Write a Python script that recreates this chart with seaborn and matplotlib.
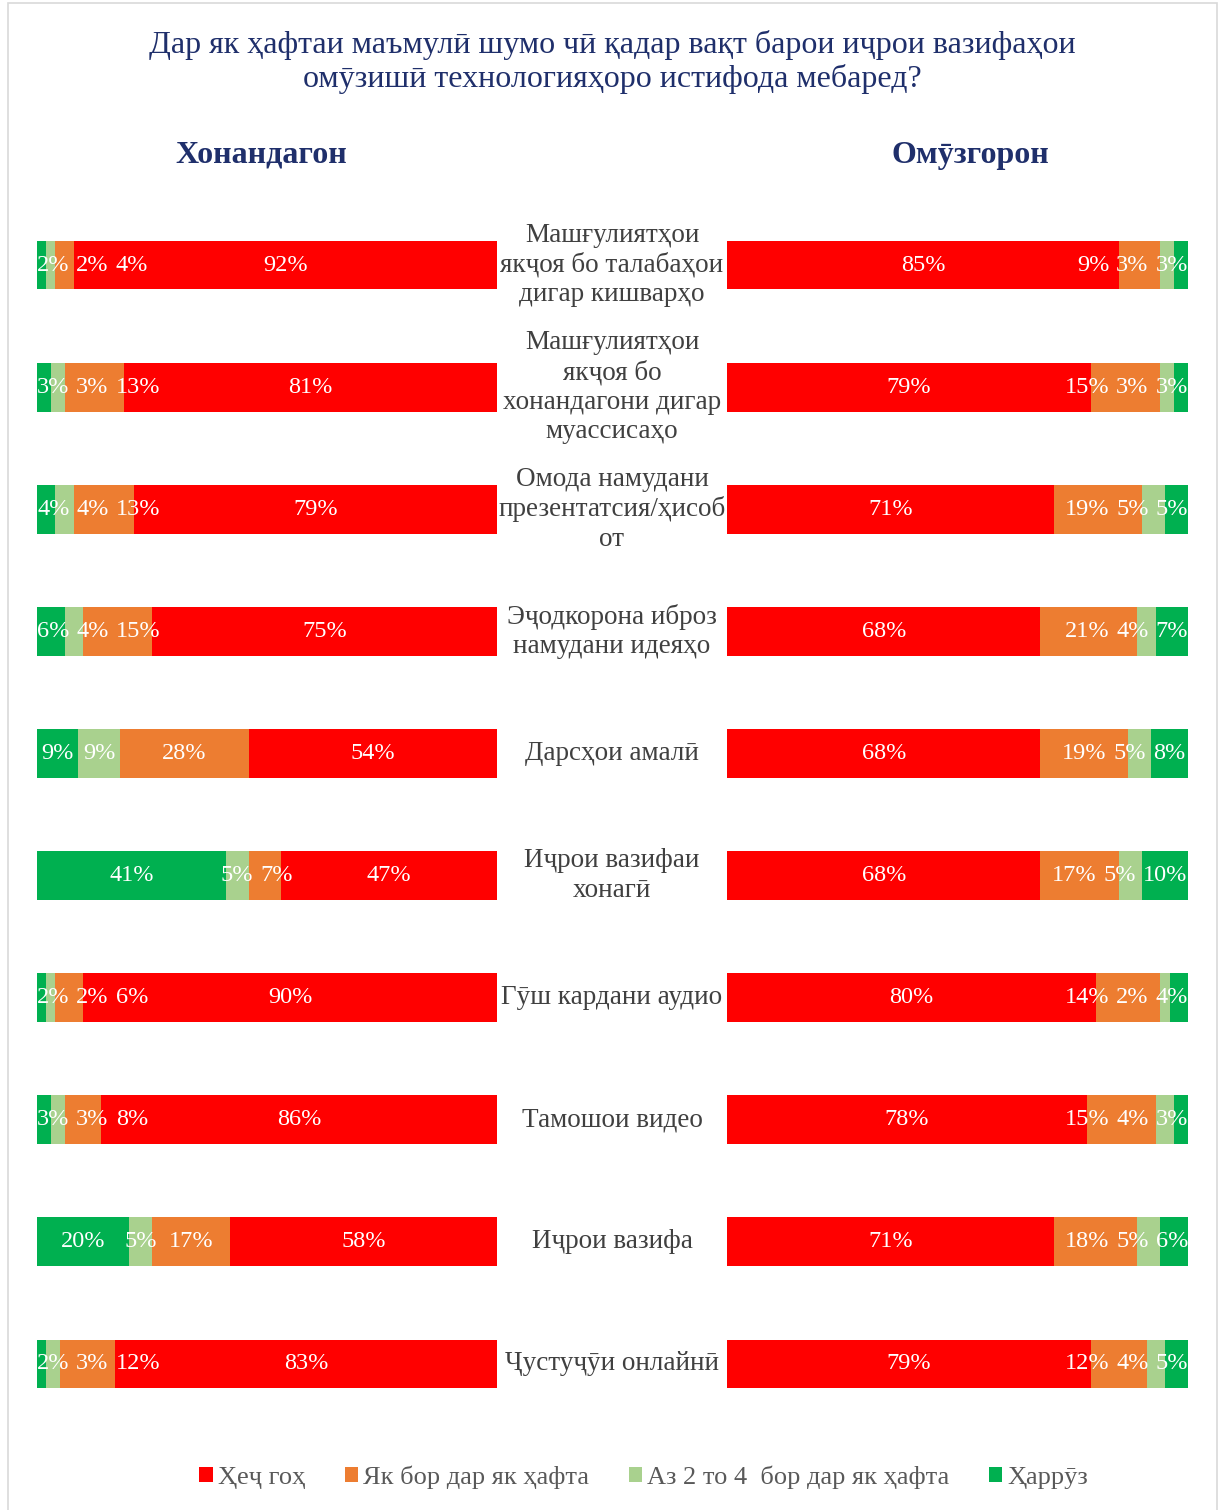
import numpy as np
import pandas as pd
import matplotlib
matplotlib.use("Agg")
import matplotlib.pyplot as plt
import matplotlib.transforms as mtransforms
from matplotlib.patches import Patch, Rectangle
import seaborn as sns

# DATA
title = "Дар як ҳафтаи маъмулӣ шумо чӣ қадар вақт барои иҷрои вазифаҳои\nомӯзишӣ технологияҳоро истифода мебаред?"
panel_titles = ["Хонандагон", "Омӯзгорон"]

categories = [
    "Машғулиятҳои\nякҷоя бо талабаҳои\nдигар кишварҳо",
    "Машғулиятҳои\nякҷоя бо\nхонандагони дигар\nмуассисаҳо",
    "Омода намудани\nпрезентатсия/ҳисоб\nот",
    "Эҷодкорона иброз\nнамудани идеяҳо",
    "Дарсҳои амалӣ",
    "Иҷрои вазифаи\nхонагӣ",
    "Гӯш кардани аудио",
    "Тамошои видео",
    "Иҷрои вазифа",
    "Ҷустуҷӯи онлайнӣ",
]

series = ["Ҳеҷ гоҳ", "Як бор дар як ҳафта", "Аз 2 то 4  бор дар як ҳафта", "Ҳаррӯз"]
colors = ["#FF0000", "#ED7D31", "#A9D18E", "#00B050"]

# students (Хонандагон)
stud_never = [92, 81, 79, 75, 54, 47, 90, 86, 58, 83]
stud_once = [4, 13, 13, 15, 28, 7, 6, 8, 17, 12]
stud_2to4 = [2, 3, 4, 4, 9, 5, 2, 3, 5, 3]
stud_daily = [2, 3, 4, 6, 9, 41, 2, 3, 20, 2]

# teachers (Омӯзгорон)
teach_never = [85, 79, 71, 68, 68, 68, 80, 78, 71, 79]
teach_once = [9, 15, 19, 21, 19, 17, 14, 15, 18, 12]
teach_2to4 = [3, 3, 5, 4, 5, 5, 2, 4, 5, 4]
teach_daily = [3, 3, 5, 7, 8, 10, 4, 3, 6, 5]

sns.set_style("white")
plt.rcParams["font.family"] = ["Liberation Serif", "DejaVu Serif"]

W, H = 1219, 1510
fig = plt.figure(figsize=(W / 100, H / 100), dpi=100)

ax_bottom = 1 - 1425 / H
ax_height = (1425 - 204) / H
ax_left = fig.add_axes([37 / W, ax_bottom, 460 / W, ax_height])
ax_right = fig.add_axes([727 / W, ax_bottom, 461 / W, ax_height])

value_fs = 17.5


def label_width(ax, text):
    # rough width of a Times-like label, in data units
    fs_px = value_fs * 100 / 72
    digits = len(text) - 1
    px = (0.5 * digits + 0.833) * fs_px
    px_per_unit = ax.get_position().width * W / 100
    return px / px_per_unit


def draw_panel(ax, segs, seg_colors, reverse_push):
    # segs: list of series in stacking order from x=0 outward
    arr = np.array(segs, dtype=float)
    cum = np.cumsum(arr, axis=0)
    # draw widest layer first so shorter cumulative bars sit on top
    for k in range(len(segs) - 1, -1, -1):
        df = pd.DataFrame({"cat": categories, "val": cum[k]})
        sns.barplot(data=df, x="val", y="cat", order=categories, orient="h",
                    color=seg_colors[k], width=0.4, linewidth=0,
                    saturation=1, ax=ax)
    ax.set_xlim(0, 100)
    ax.set_ylim(len(categories) - 0.5, -0.5)
    ax.axis("off")

    gap = 1.5
    for i in range(len(categories)):
        starts = np.concatenate([[0], cum[:-1, i]])
        centers = starts + arr[:, i] / 2
        texts = [f"{int(v)}%" for v in arr[:, i]]
        pos = list(centers)
        if not reverse_push:
            limit = 0.0
            for k in range(len(texts)):
                w = label_width(ax, texts[k])
                pos[k] = max(centers[k], limit + w / 2)
                limit = pos[k] + w / 2 + gap
        else:
            limit = 100.0
            for k in range(len(texts) - 1, -1, -1):
                w = label_width(ax, texts[k])
                pos[k] = min(centers[k], limit - w / 2)
                limit = pos[k] - w / 2 - gap
        for k in range(len(texts)):
            ax.text(pos[k], i, texts[k], ha="center", va="center",
                    color="white", fontsize=value_fs)


# left: green from the left edge, red at the end
draw_panel(ax_left, [stud_daily, stud_2to4, stud_once, stud_never],
           [colors[3], colors[2], colors[1], colors[0]], reverse_push=False)
# right: red from the left edge
draw_panel(ax_right, [teach_never, teach_once, teach_2to4, teach_daily],
           colors, reverse_push=True)

# category labels in the middle
trans = mtransforms.blended_transform_factory(fig.transFigure, ax_left.transData)
for i, cat in enumerate(categories):
    fig.text(612 / W, i, cat, transform=trans, ha="center", va="center",
             fontsize=19.5, color="#404040", linespacing=1.24)

navy = "#1F2F6B"
fig.text(612 / W, 1 - 62 / H, title, ha="center", va="center",
         fontsize=23, color=navy, linespacing=1.15)
fig.text(261 / W, 1 - 155 / H, panel_titles[0], ha="center", va="center",
         fontsize=23, fontweight="bold", color=navy)
fig.text(970 / W, 1 - 155 / H, panel_titles[1], ha="center", va="center",
         fontsize=23, fontweight="bold", color=navy)

handles = [Patch(facecolor=c, edgecolor="none", label=s) for s, c in zip(series, colors)]
leg = fig.legend(handles=handles, loc="center", bbox_to_anchor=(644 / W, 1 - 1477 / H),
                 ncol=4, frameon=False, fontsize=19, handlelength=0.5,
                 handleheight=0.5, handletextpad=0.2, columnspacing=1.5)
for t in leg.get_texts():
    t.set_color("#595959")

fig.patches.append(Rectangle((8 / W, -0.01), (1217 - 8) / W, 1.01 - 3 / H,
                             transform=fig.transFigure, fill=False,
                             edgecolor="#D9D9D9", linewidth=1.2))

fig.savefig("out.png", dpi=100)
